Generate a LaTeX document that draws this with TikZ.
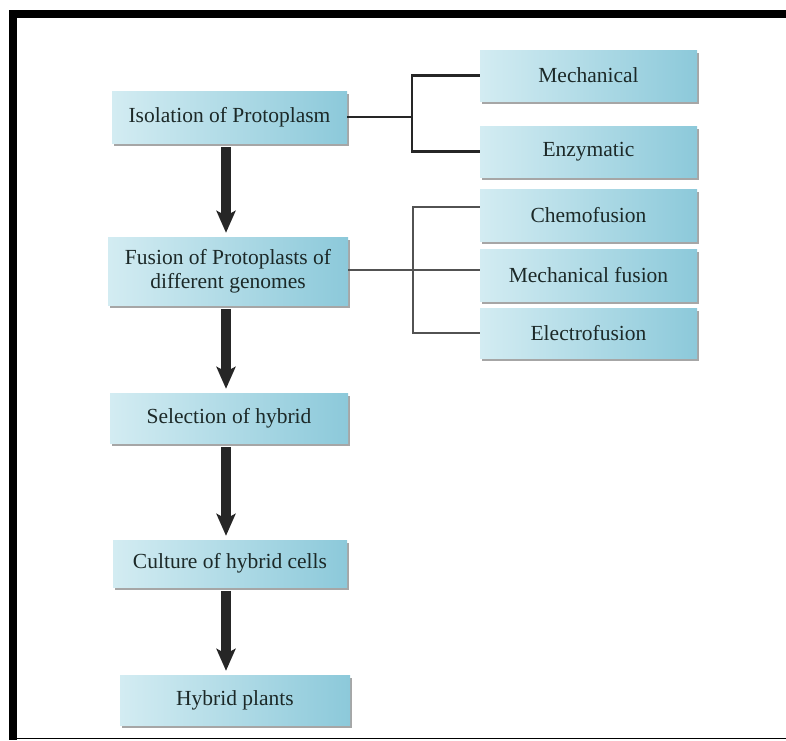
\documentclass[tikz,border=0pt]{standalone}
\usepackage{fontspec}
\setmainfont{Liberation Serif}
\usetikzlibrary{arrows.meta,shadows,calc}
\definecolor{boxL}{HTML}{D3ECF2}
\definecolor{boxM}{HTML}{E2F3F7}
\definecolor{boxR}{HTML}{8CC9DA}
\definecolor{txt}{HTML}{1C2928}
\begin{document}
\begin{tikzpicture}[x=1pt,y=-1pt,
  box/.style={rectangle, draw=none, left color=boxL, middle color=boxM, right color=boxR,
    drop shadow={shadow xshift=2pt, shadow yshift=-3pt, fill=black!35, opacity=1},
    font=\fontsize{21.5}{24}\selectfont, text=txt, inner sep=0pt, align=center},
  conn/.style={line width=2.5pt, draw=black!85},
  conn2/.style={line width=2.5pt, draw=black!68},
  bigarrow/.style={line width=10pt, draw=black!85, shorten <=4pt, shorten >=4pt,
    -{Stealth[width=19pt, length=22pt, inset=5pt]}}]
\useasboundingbox (0,0) rectangle (786,740);
\fill[white] (0,0) rectangle (786,740);
% frame
\fill[black] (9,10) rectangle (786,18);
\fill[black] (9,10) rectangle (17,740);
\draw[line width=1.5pt] (9,738.5) -- (786,738.5);

% main column
\node[box, minimum width=235pt, minimum height=52pt] (iso) at (229.5,117) {Isolation of Protoplasm};
\node[box, minimum width=240pt, minimum height=68pt] (fus) at (228,271) {Fusion of Protoplasts of\\different genomes};
\node[box, minimum width=238pt, minimum height=50pt] (sel) at (229,418) {Selection of hybrid};
\node[box, minimum width=234pt, minimum height=47pt] (cul) at (230,563.5) {Culture of hybrid cells};
\node[box, minimum width=230pt, minimum height=50pt] (hyb) at (235,700) {Hybrid plants};

% side boxes
\node[box, minimum width=217pt, minimum height=51pt] (mech) at (588.5,75.5) {Mechanical};
\node[box, minimum width=217pt, minimum height=51pt] (enz) at (588.5,151.5) {Enzymatic};
\node[box, minimum width=217pt, minimum height=52pt] (chemo) at (588.5,215) {Chemofusion};
\node[box, minimum width=217pt, minimum height=52pt] (mfus) at (588.5,275) {Mechanical fusion};
\node[box, minimum width=217pt, minimum height=50pt] (elec) at (588.5,333) {Electrofusion};

% connectors
\coordinate (j1) at (412,0);
\coordinate (j2) at (413,0);
\coordinate (ax) at (226,0);
\draw[conn] (iso.east) -- (iso.east -| j1);
\draw[conn] (mech.west) -| (enz.west -| j1) -- (enz.west);
\draw[conn2] ($(fus.east)+(0,-1)$) -- ($(mfus.west)+(0,-5)$);
\draw[conn2] ($(chemo.west)+(0,-8)$) -| (elec.west -| j2) -- (elec.west);

% arrows
\draw[bigarrow] (iso.south -| ax) -- (fus.north -| ax);
\draw[bigarrow] (fus.south -| ax) -- (sel.north -| ax);
\draw[bigarrow] (sel.south -| ax) -- (cul.north -| ax);
\draw[bigarrow] (cul.south -| ax) -- (hyb.north -| ax);
\end{tikzpicture}
\end{document}
